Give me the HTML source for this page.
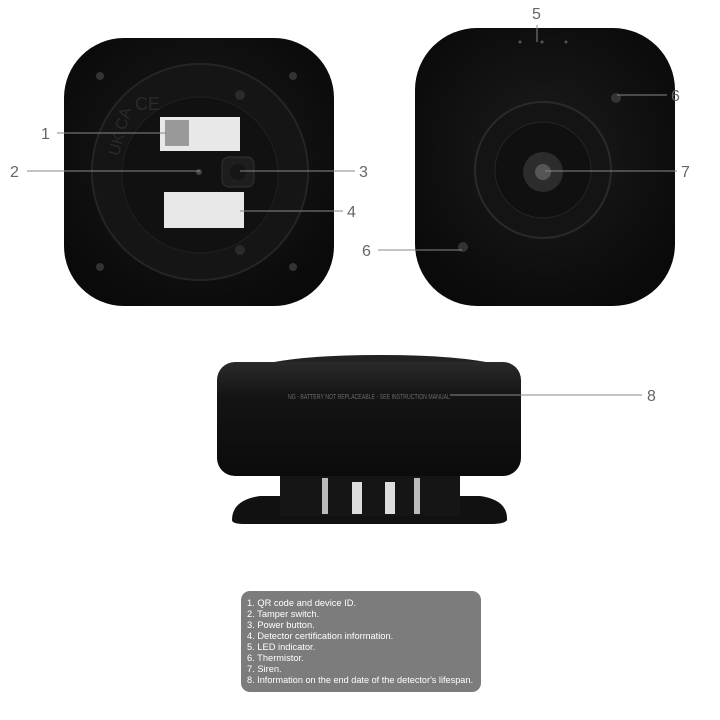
<!DOCTYPE html>
<html><head><meta charset="utf-8"><style>
html,body{margin:0;padding:0;background:#fff;}
svg{display:block;}
text{font-family:"Liberation Sans",sans-serif;}
</style></head><body>
<svg width="720" height="720" viewBox="0 0 720 720" xmlns="http://www.w3.org/2000/svg">
<defs>
<radialGradient id="g1" cx="50%" cy="45%" r="60%"><stop offset="0" stop-color="#1c1c1c"/><stop offset="1" stop-color="#0a0a0a"/></radialGradient>
<linearGradient id="side" x1="0" y1="0" x2="0" y2="1"><stop offset="0" stop-color="#2a2a2a"/><stop offset="0.3" stop-color="#141414"/><stop offset="1" stop-color="#0b0b0b"/></linearGradient>
</defs>
<!-- Left device -->
<rect x="64" y="38" width="270" height="268" rx="60" fill="url(#g1)"/>
<circle cx="200" cy="172" r="108" fill="#151515" stroke="#252525" stroke-width="2"/>
<circle cx="200" cy="175" r="78" fill="#111" stroke="#202020"/>
<circle cx="100" cy="76" r="4" fill="#333"/><circle cx="293" cy="76" r="4" fill="#333"/>
<circle cx="100" cy="267" r="4" fill="#333"/><circle cx="293" cy="267" r="4" fill="#333"/>
<circle cx="240" cy="95" r="5" fill="#2a2a2a"/><circle cx="240" cy="250" r="5" fill="#2a2a2a"/>
<rect x="160" y="117" width="80" height="34" fill="#e8e8e8"/>
<rect x="165" y="120" width="24" height="26" fill="#999"/>
<rect x="164" y="192" width="80" height="36" fill="#e8e8e8"/>
<rect x="222" y="157" width="32" height="30" rx="7" fill="#1e1e1e" stroke="#333"/>
<circle cx="238" cy="172" r="8" fill="#161616"/>
<circle cx="199" cy="172" r="3" fill="#444"/>
<text x="106" y="160" font-size="16" fill="#2a2a2a" transform="rotate(-75 110 150)">UK CA</text>
<text x="135" y="110" font-size="18" fill="#2a2a2a">CE</text>
<!-- Right device -->
<rect x="415" y="28" width="260" height="278" rx="62" fill="url(#g1)"/>
<circle cx="543" cy="170" r="68" fill="#141414" stroke="#2a2a2a" stroke-width="2"/>
<circle cx="543" cy="170" r="48" fill="#101010" stroke="#252525"/>
<circle cx="543" cy="172" r="20" fill="#2c2c2c"/>
<circle cx="543" cy="172" r="8" fill="#555"/>
<circle cx="616" cy="98" r="5" fill="#333"/><circle cx="463" cy="247" r="5" fill="#333"/>
<circle cx="520" cy="42" r="1.5" fill="#555"/><circle cx="542" cy="42" r="1.5" fill="#555"/><circle cx="566" cy="42" r="1.5" fill="#555"/>
<!-- Side view -->
<path d="M232 520 Q232 500 260 496 L480 496 Q508 500 507 520 Q505 524 490 524 L245 524 Q232 524 232 520Z" fill="#111"/>
<rect x="280" y="470" width="180" height="46" fill="#151515"/>
<rect x="322" y="478" width="6" height="36" fill="#bbb"/>
<rect x="352" y="482" width="10" height="32" fill="#ddd"/>
<rect x="385" y="482" width="10" height="32" fill="#ddd"/>
<rect x="414" y="478" width="6" height="36" fill="#bbb"/>
<path d="M260 365 Q300 355 380 355 Q460 355 500 365 Z" fill="#222"/>
<rect x="217" y="362" width="304" height="114" rx="18" fill="url(#side)"/>
<text x="288" y="399" font-size="7.5" fill="#6a6a6a" textLength="162" lengthAdjust="spacingAndGlyphs">NG - BATTERY NOT REPLACEABLE - SEE INSTRUCTION MANUAL</text>
<!-- callouts -->
<g stroke="#888" stroke-width="1">
<line x1="57" y1="133" x2="166" y2="133"/>
<line x1="27" y1="171" x2="200" y2="171"/>
<line x1="240" y1="171" x2="355" y2="171"/>
<line x1="240" y1="211" x2="343" y2="211"/>
<line x1="537" y1="25" x2="537" y2="42"/>
<line x1="617" y1="95" x2="667" y2="95"/>
<line x1="545" y1="171" x2="677" y2="171"/>
<line x1="378" y1="250" x2="462" y2="250"/>
<line x1="450" y1="395" x2="642" y2="395"/>
</g>
<g font-size="16" fill="#666">
<text x="41" y="139">1</text>
<text x="10" y="177">2</text>
<text x="359" y="177">3</text>
<text x="347" y="217">4</text>
<text x="532" y="19">5</text>
<text x="671" y="101">6</text>
<text x="681" y="177">7</text>
<text x="362" y="256">6</text>
<text x="647" y="401">8</text>
</g>
<!-- legend -->
<rect x="241" y="591" width="240" height="101" rx="9" fill="#7c7c7c"/>
<g font-size="9.3" fill="#fff">
<text x="247" y="606">1. QR code and device ID.</text>
<text x="247" y="617">2. Tamper switch.</text>
<text x="247" y="628">3. Power button.</text>
<text x="247" y="639">4. Detector certification information.</text>
<text x="247" y="650">5. LED indicator.</text>
<text x="247" y="661">6. Thermistor.</text>
<text x="247" y="672">7. Siren.</text>
<text x="247" y="683" textLength="226" lengthAdjust="spacingAndGlyphs">8. Information on the end date of the detector's lifespan.</text>
</g>
</svg>
</body></html>
